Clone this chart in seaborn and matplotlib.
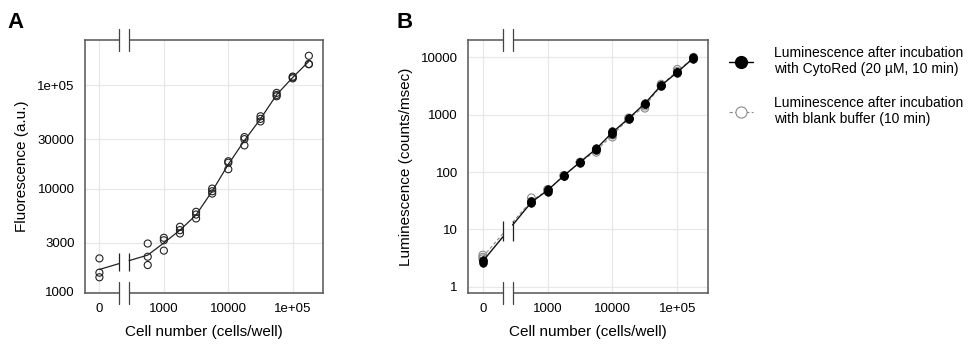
import numpy as np
import pandas as pd
import seaborn as sns
import matplotlib.pyplot as plt
from matplotlib.lines import Line2D

sns.set_theme(style="whitegrid")
plt.rcParams['font.family'] = ['Liberation Sans', 'DejaVu Sans']
plt.rcParams['text.color'] = 'black'
plt.rcParams['axes.labelcolor'] = 'black'
plt.rcParams['xtick.color'] = 'black'
plt.rcParams['ytick.color'] = 'black'

# ---- data ----
cells = [0, 562, 1000, 1778, 3162, 5623, 10000, 17783, 31623, 56234, 100000, 177828]

# panel A: fluorescence, three replicates
fluor_r1 = [2110, 2940, 3340, 4270, 5960, 10000, 18400, 31500, 50100, 84400, 121400, 193000]
fluor_r2 = [1535, 2190, 3160, 3960, 5610, 9420, 17800, 30100, 47300, 80700, 119400, 160700]
fluor_r3 = [1385, 1820, 2510, 3680, 5140, 8950, 15400, 26200, 44700, 78300, 116700, 160000]

# panel B: luminescence with CytoRed, three replicates
cyto_r1 = [3.0, 31, 51, 86, 149, 266, 525, 890, 1620, 3300, 5600, 10200]
cyto_r2 = [2.6, 28.5, 45.5, 88, 152, 242, 460, 830, 1510, 3150, 5300, 9200]
cyto_r3 = [2.8, 30, 48, 85, 146, 255, 490, 860, 1560, 3220, 5450, 9800]

# panel B: luminescence with blank buffer, three replicates
blank_r1 = [3.6, 35.7, 50, 88, 150, 220, 405, 850, 1290, 3400, 6170, 10000]
blank_r2 = [3.3, 31, 46, 85, 145, 250, 470, 820, 1500, 3200, 5700, 9500]
blank_r3 = [3.1, 29, 48, 87, 148, 240, 440, 880, 1400, 3100, 5500, 9300]

x_ticks = [0, 1000, 10000, 100000]
x_ticklabels = ['0', '1000', '10000', '1e+05']
a_yticks = [1000, 3000, 10000, 30000, 100000]
a_yticklabels = ['1000', '3000', '10000', '30000', '1e+05']
b_yticks = [1, 10, 100, 1000, 10000]
b_yticklabels = ['1', '10', '100', '1000', '10000']

legend_labels = ['Luminescence after incubation\nwith CytoRed (20 \u00b5M, 10 min)',
                 'Luminescence after incubation\nwith blank buffer (10 min)']

# x axis: log10 of cells, with 0 drawn at position 2 behind an axis break
ZERO_POS = 2.0
BREAK = (2.31, 2.46)


def xpos(v):
    v = np.asarray(v, dtype=float)
    return np.where(v > 0, np.log10(np.where(v > 0, v, 1)), ZERO_POS)


def long_df(reps):
    rows = []
    for r in reps:
        for c, v in zip(cells, r):
            rows.append({'x': float(xpos(c)), 'y': v})
    return pd.DataFrame(rows)


def geo_mean(reps):
    return 10 ** np.mean(np.log10(np.array(reps, dtype=float)), axis=0)


def broken_line(ax, mean_vals, break_ms, **kw):
    xs = xpos(cells)
    ly = np.log10(mean_vals)
    # interpolate the line at both break edges (between first and second point)
    t1 = (BREAK[0] - xs[0]) / (xs[1] - xs[0])
    t2 = (BREAK[1] - xs[0]) / (xs[1] - xs[0])
    l1 = ly[0] + t1 * (ly[1] - ly[0])
    l2 = ly[0] + t2 * (ly[1] - ly[0])
    ax.plot([xs[0], BREAK[0]], [mean_vals[0], 10 ** l1], **kw)
    ax.plot(np.r_[BREAK[1], xs[1:]], np.r_[10 ** l2, mean_vals[1:]], **kw)
    if break_ms:
        ymid = 10 ** ((l1 + l2) / 2)
        ax.plot([BREAK[0], BREAK[1]], [ymid, ymid], ls='none', marker='|',
                ms=break_ms, mew=0.9, color='#222222', zorder=5)


def style_axes(ax, ylim, yticks, yticklabels, ylabel):
    ax.set_yscale('log')
    ax.set_ylim(*ylim)
    ax.set_xlim(1.777, 5.47)
    ax.set_xticks(xpos(x_ticks))
    ax.set_xticklabels(x_ticklabels)
    ax.set_yticks(yticks)
    ax.set_yticklabels(yticklabels)
    ax.minorticks_off()
    ax.tick_params(axis='both', which='major', length=4.5, width=0.8,
                   color='#444444', labelsize=9.5, pad=3, direction='out',
                   labelcolor='black')
    ax.grid(True, color='#e8e8e8', lw=0.9)
    for s in ax.spines.values():
        s.set_color('#555555')
        s.set_linewidth(1.1)
    ax.set_xlabel('Cell number (cells/well)', fontsize=11, labelpad=7)
    ax.set_ylabel(ylabel, fontsize=11, labelpad=6)
    # axis breaks on top and bottom spines
    tr = ax.get_xaxis_transform()
    for yy in (0, 1):
        ax.plot([BREAK[0], BREAK[1]], [yy, yy], color='white', lw=3,
                transform=tr, clip_on=False, zorder=4, solid_capstyle='butt')
        for xb in BREAK:
            ax.plot([xb, xb], [yy - 0.043, yy + 0.043], color='#444444', lw=0.9,
                    transform=tr, clip_on=False, zorder=5)


fig = plt.figure(figsize=(9.73, 3.5), dpi=100)
axA = fig.add_axes([0.0874, 0.163, 0.2446, 0.723])
axB = fig.add_axes([0.4813, 0.163, 0.2461, 0.723])

# ---- panel A ----
dfA = long_df([fluor_r1, fluor_r2, fluor_r3])
broken_line(axA, geo_mean([fluor_r1, fluor_r2, fluor_r3]), 12.5,
            color='#222222', lw=0.9, zorder=3)
sns.scatterplot(data=dfA, x='x', y='y', ax=axA, marker='o', s=26,
                facecolor='none', edgecolor='#222222', linewidth=0.8, zorder=4)
style_axes(axA, (977, 275000), a_yticks, a_yticklabels, 'Fluorescence (a.u.)')

# ---- panel B ----
dfBk = long_df([blank_r1, blank_r2, blank_r3])
dfCy = long_df([cyto_r1, cyto_r2, cyto_r3])
broken_line(axB, geo_mean([blank_r1, blank_r2, blank_r3]), 0,
            color='#8a8a8a', lw=0.8, ls=(0, (3, 2)), zorder=3)
sns.scatterplot(data=dfBk, x='x', y='y', ax=axB, marker='o', s=30,
                facecolor='none', edgecolor='#8a8a8a', linewidth=0.8, zorder=4)
broken_line(axB, geo_mean([cyto_r1, cyto_r2, cyto_r3]), 15,
            color='#111111', lw=1.0, zorder=5)
sns.scatterplot(data=dfCy, x='x', y='y', ax=axB, marker='o', s=30,
                color='black', edgecolor='black', linewidth=0.5, zorder=6)
style_axes(axB, (0.785, 20000), b_yticks, b_yticklabels, 'Luminescence (counts/msec)')

handles = [Line2D([], [], color='black', lw=1.0, marker='o', ms=8.5,
                  markerfacecolor='black'),
           Line2D([], [], color='#8a8a8a', lw=0.8, ls=(0, (3, 2)), marker='o', ms=8,
                  markerfacecolor='white', markeredgecolor='#8a8a8a', markeredgewidth=0.8)]
axB.legend(handles, legend_labels, loc='upper left', bbox_to_anchor=(1.067, 0.997),
           frameon=False, fontsize=10, handlelength=1.7, handletextpad=1.5,
           labelspacing=1.4, borderaxespad=0)

fig.text(0.008, 0.965, 'A', fontsize=16, fontweight='bold', va='top')
fig.text(0.408, 0.965, 'B', fontsize=16, fontweight='bold', va='top')

plt.savefig('out.png', dpi=100)
